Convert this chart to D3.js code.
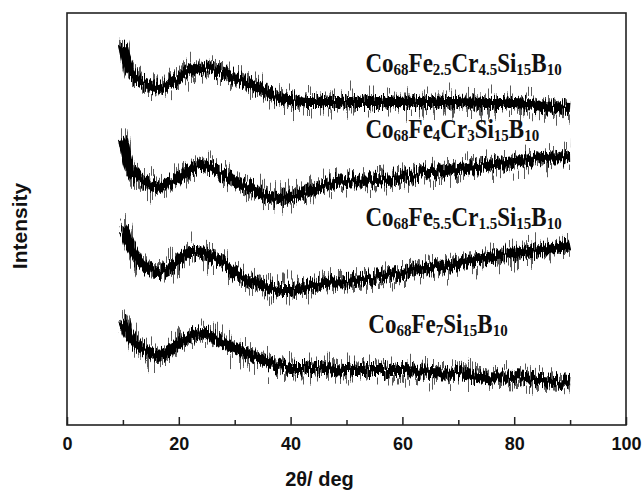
<!DOCTYPE html>
<html>
<head>
<meta charset="utf-8">
<script src="https://cdn.jsdelivr.net/npm/d3@7"></script>
<style>
  body { margin: 0; background: #fff; }
  svg { display: block; }
</style>
</head>
<body>
<div id="chart"><svg width="644" height="493"></svg></div>
<script>
// 2theta positions where the traces were read (deg)
const angles = [10, 10.5, 11, 12, 13, 14, 16, 18, 20, 22, 24, 26, 28, 30, 32, 34, 36, 38, 40, 43, 46, 50, 55, 60, 65, 70, 75, 80, 85, 90];

// intensity (a.u., offset traces), top to bottom
const feCr45 = [380, 368, 358, 350, 345, 342, 337, 340, 347, 353, 357, 355, 352, 347, 342, 337, 332, 327, 325, 323, 323, 323, 323, 323, 323, 323, 322, 322, 319, 317];
const feCr3  = [287, 273, 260, 250, 245, 242, 238, 242, 248, 257, 260, 257, 250, 243, 238, 233, 228, 227, 228, 233, 240, 243, 245, 248, 252, 257, 260, 263, 267, 268];
const feCr15 = [197, 192, 183, 172, 163, 158, 153, 157, 165, 173, 173, 168, 162, 153, 147, 142, 137, 135, 135, 138, 142, 143, 147, 152, 157, 162, 167, 172, 175, 180];
const fe7    = [105,  98,  92,  83,  78,  75,  70,  73,  82,  88,  92,  88,  82,  77,  72,  67,  63,  60,  57,  57,  57,  55,  55,  55,  53,  52,  48,  47,  44,  42];

const seriesNames = ["Co68Fe2.5Cr4.5Si15B10", "Co68Fe4Cr3Si15B10", "Co68Fe5.5Cr1.5Si15B10", "Co68Fe7Si15B10"];
const seriesValues = [feCr45, feCr3, feCr15, fe7];

const xTicks = [0, 20, 40, 60, 80, 100];
const xMinorTicks = [10, 30, 50, 70, 90];

function Chart(config){
    var width = config.width,
        height = config.height,
        margin = config.margin,
        svg, x, y

    function chart(){
        initialize();
        drawDefs();
        drawTraces();
        drawLabels();
        drawAxes();
    }

    const initialize = () => {
        svg = d3.select('#' + config.id).select('svg');
        x = d3.scaleLinear().domain([0, 100]).range([margin.left, width - margin.right]);
        y = d3.scaleLinear().domain([0, 412]).range([height - margin.bottom, margin.top]);
    }

    // noise texture: columns of the stroke get shifted up/down
    const drawDefs = () => {
        var defs = svg.append('defs');
        [['jitterCore', 22, 0.9, 3], ['jitterHair', 60, 0.95, 11]].forEach(f => {
            var filt = defs.append('filter')
                .attr('id', f[0])
                .attr('filterUnits', 'userSpaceOnUse')
                .attr('x', 0).attr('y', 0).attr('width', width).attr('height', height)
                .attr('color-interpolation-filters', 'sRGB');
            filt.append('feTurbulence')
                .attr('type', 'fractalNoise')
                .attr('baseFrequency', f[2] + ' 0.02')
                .attr('numOctaves', 1)
                .attr('seed', f[3])
                .attr('result', 'turb');
            filt.append('feColorMatrix')
                .attr('in', 'turb')
                .attr('type', 'matrix')
                .attr('values', '0 0 0 0 0.5  0 1 0 0 0  0 0 0 0 0  0 0 0 0 1')
                .attr('result', 'map');
            filt.append('feDisplacementMap')
                .attr('in', 'SourceGraphic')
                .attr('in2', 'map')
                .attr('scale', f[1])
                .attr('xChannelSelector', 'R')
                .attr('yChannelSelector', 'G');
        });
    }

    const drawTraces = () => {
        var line = d3.line()
            .x(d => x(d[0]))
            .y(d => y(d[1]))
            .curve(d3.curveMonotoneX);

        var g = svg.append('g').attr('class', 'traces');
        var traces = seriesValues.map(vals => angles.map((a, i) => [a, vals[i]]));

        g.selectAll('path.hair').data(traces).enter()
            .append('path')
            .attr('class', 'hair')
            .attr('d', line)
            .attr('fill', 'none')
            .attr('stroke', '#5a5a5a')
            .attr('stroke-width', 9)
            .attr('filter', 'url(#jitterHair)');

        g.selectAll('path.core').data(traces).enter()
            .append('path')
            .attr('class', 'core')
            .attr('d', line)
            .attr('fill', 'none')
            .attr('stroke', '#000')
            .attr('stroke-width', 10)
            .attr('filter', 'url(#jitterCore)');
    }

    const drawLabels = () => {
        // label anchors, in data units
        var anchors = [[53.4, 353], [53.4, 287], [53.4, 199], [53.9, 92]];
        var g = svg.append('g').attr('class', 'labels');
        seriesNames.forEach((name, i) => {
            var t = g.append('text')
                .attr('transform', 'translate(' + x(anchors[i][0]) + ',' + y(anchors[i][1]) + ') scale(1,1.15)')
                .attr('font-family', '"Liberation Serif", "Times New Roman", serif')
                .attr('font-weight', 'bold')
                .attr('font-size', 23)
                .attr('fill', '#111');
            var parts = name.split(/(\d+(?:\.\d+)?)/).filter(p => p.length);
            var shifted = false;
            parts.forEach(p => {
                var isNum = /^\d/.test(p);
                var dy = isNum && !shifted ? 3 : (!isNum && shifted ? -3 : 0);
                shifted = isNum;
                t.append('tspan')
                    .attr('dy', dy)
                    .attr('font-size', isNum ? 15 : 23)
                    .text(p);
            });
        });
    }

    const drawAxes = () => {
        var x0 = margin.left, x1 = width - margin.right,
            y0 = margin.top, y1 = height - margin.bottom;

        svg.append('rect')
            .attr('x', x0).attr('y', y0)
            .attr('width', x1 - x0).attr('height', y1 - y0)
            .attr('fill', 'none')
            .attr('stroke', '#222')
            .attr('stroke-width', 1.6);

        var minor = svg.append('g')
            .attr('transform', 'translate(0,' + y1 + ')')
            .call(d3.axisBottom(x).tickValues(xMinorTicks).tickSize(-5).tickFormat(''));
        minor.select('.domain').remove();

        var major = svg.append('g')
            .attr('transform', 'translate(0,' + y1 + ')')
            .call(d3.axisBottom(x).tickValues(xTicks).tickSize(-8).tickPadding(12).tickFormat(d3.format('d')));
        major.select('.domain').remove();

        svg.selectAll('.tick line').attr('stroke', '#222').attr('stroke-width', 1.5);
        major.selectAll('.tick text')
            .attr('font-family', '"Liberation Sans", Arial, sans-serif')
            .attr('font-weight', 'bold')
            .attr('font-size', 18)
            .attr('fill', '#111');

        svg.append('text')
            .attr('x', (x0 + x1) / 2 - 27)
            .attr('y', 486)
            .attr('text-anchor', 'middle')
            .attr('font-family', '"Liberation Sans", Arial, sans-serif')
            .attr('font-weight', 'bold')
            .attr('font-size', 20)
            .attr('fill', '#111')
            .text('2θ/ deg');

        svg.append('text')
            .attr('transform', 'translate(27,' + 226 + ') rotate(-90)')
            .attr('text-anchor', 'middle')
            .attr('font-family', '"Liberation Sans", Arial, sans-serif')
            .attr('font-weight', 'bold')
            .attr('font-size', 21)
            .attr('fill', '#111')
            .text('Intensity');
    }

    return chart;
}

var c = Chart({id: 'chart', width: 644, height: 493, margin: {top: 13, right: 18, bottom: 68, left: 67}});
c();
</script>
</body>
</html>
